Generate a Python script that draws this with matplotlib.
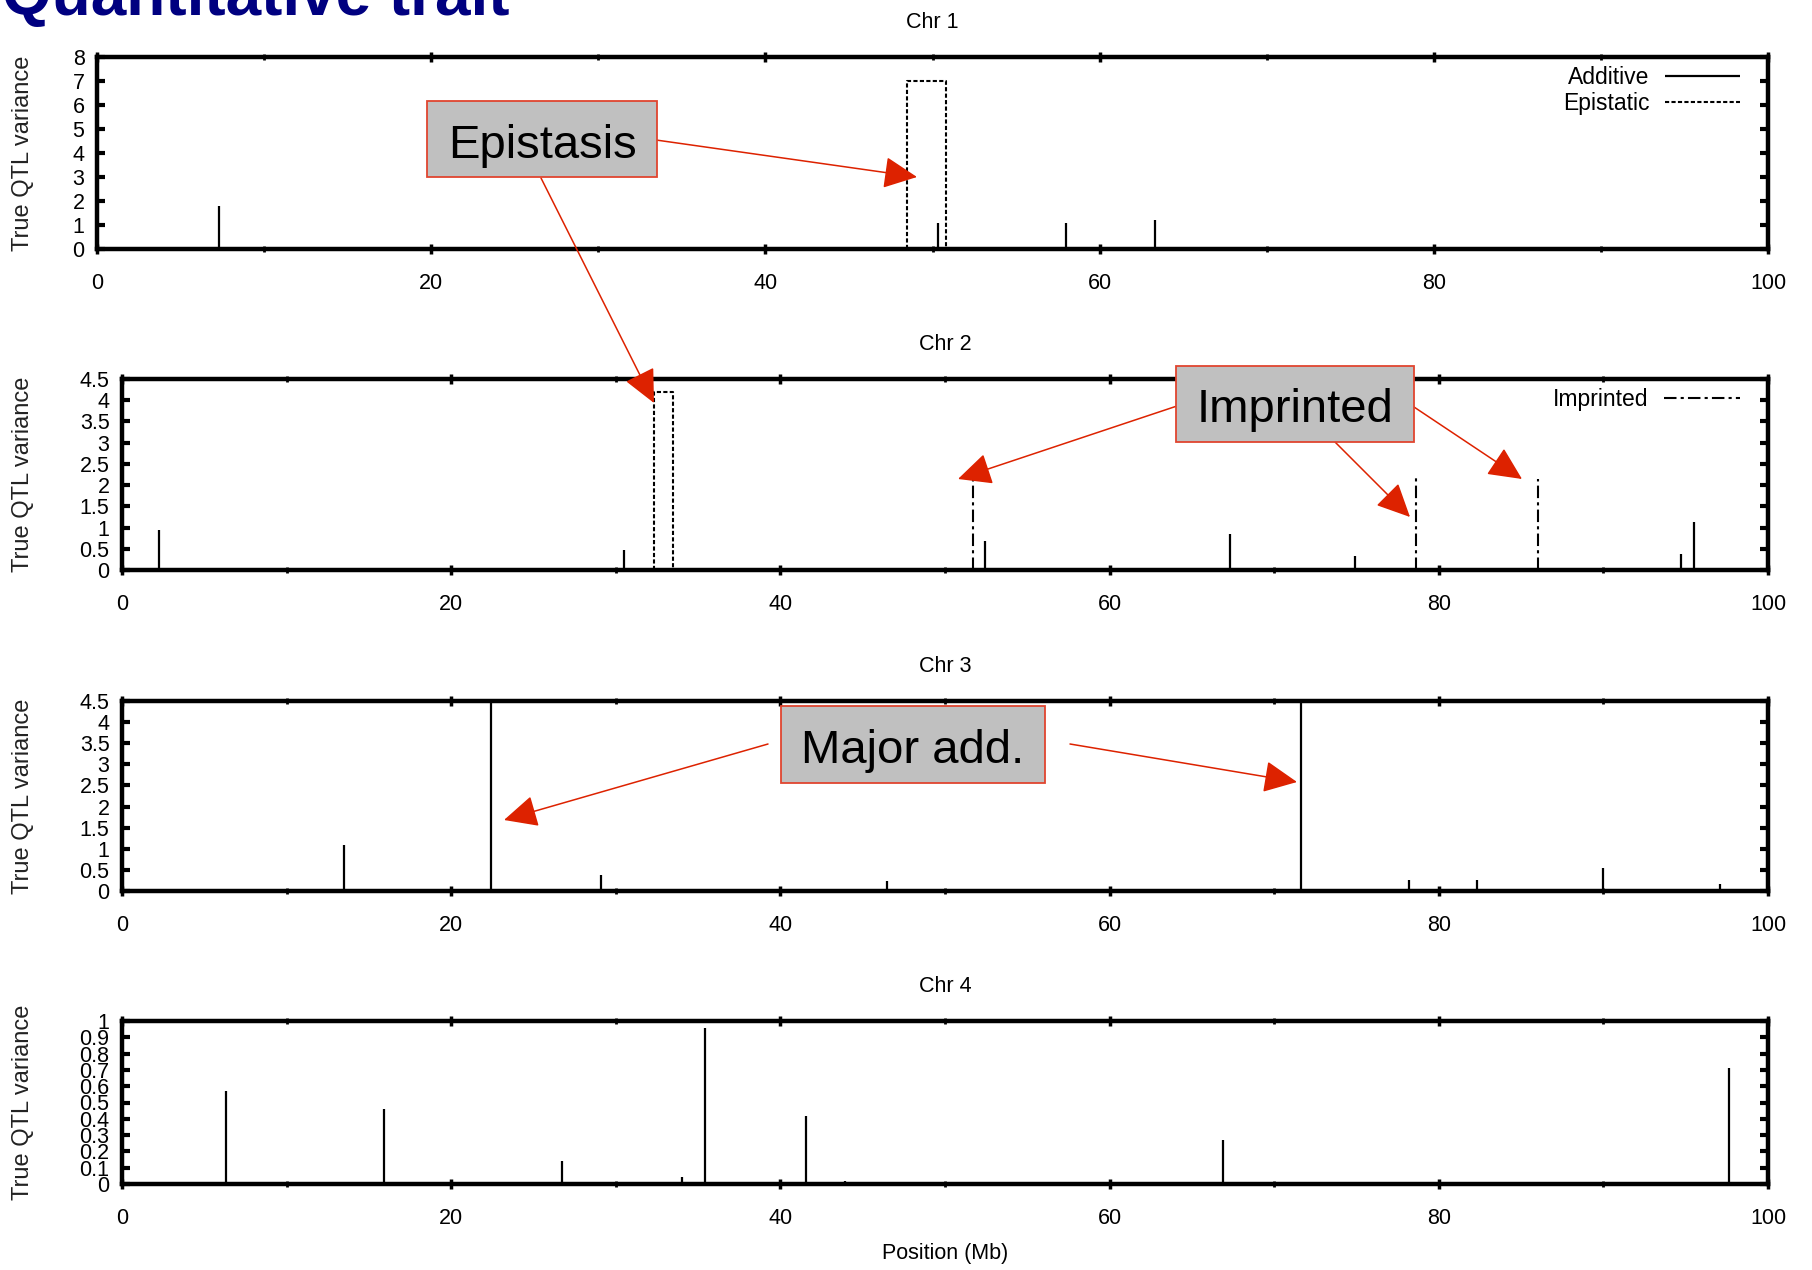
import matplotlib
matplotlib.use("Agg")
import matplotlib.pyplot as plt
from matplotlib.patches import Rectangle, FancyArrowPatch

plt.rcParams['font.family'] = ['Liberation Sans', 'DejaVu Sans']

# --- data (position in Mb, true QTL variance) ---
chr1_add_pos = [7.3, 50.3, 58.0, 63.3]
chr1_add_var = [1.8, 1.1, 1.1, 1.2]
chr1_epi_start = [48.5]
chr1_epi_end = [50.8]
chr1_epi_var = [7.0]

chr2_add_pos = [2.25, 30.5, 52.45, 67.3, 74.9, 94.7, 95.5]
chr2_add_var = [0.95, 0.47, 0.68, 0.84, 0.33, 0.37, 1.13]
chr2_epi_start = [32.3]
chr2_epi_end = [33.45]
chr2_epi_var = [4.2]
chr2_imp_pos = [51.7, 78.6, 86.0]
chr2_imp_var = [2.14, 2.22, 2.14]

chr3_add_pos = [13.5, 22.4, 29.1, 46.5, 71.6, 78.2, 82.3, 90.0, 97.1]
chr3_add_var = [1.08, 4.5, 0.39, 0.23, 4.5, 0.25, 0.25, 0.54, 0.16]

chr4_add_pos = [6.3, 15.9, 26.75, 34.0, 35.4, 41.55, 43.9, 66.9, 97.65]
chr4_add_var = [0.57, 0.46, 0.14, 0.045, 0.96, 0.42, 0.02, 0.27, 0.71]

chr_names = ['Chr 1', 'Chr 2', 'Chr 3', 'Chr 4']
ytick_vals = [
    [0, 1, 2, 3, 4, 5, 6, 7, 8],
    [0, 0.5, 1, 1.5, 2, 2.5, 3, 3.5, 4, 4.5],
    [0, 0.5, 1, 1.5, 2, 2.5, 3, 3.5, 4, 4.5],
    [0, 0.1, 0.2, 0.3, 0.4, 0.5, 0.6, 0.7, 0.8, 0.9, 1],
]
xtick_vals = [0, 20, 40, 60, 80, 100]

W, H = 1812, 1270
fig = plt.figure(figsize=(W / 100, H / 100), dpi=100)


def px(x, y):
    return (x / W, 1 - y / H)


# axes boxes in pixels: left, top, right, bottom
boxes = [(97, 57, 1768, 249), (122, 379, 1768, 570),
         (122, 701, 1768, 891), (122, 1021, 1768, 1184)]

epi_style = (0, (2, 1.1))
imp_style = (0, (6, 2, 1.5, 2))

axes = []
for i, (l, t, r, b) in enumerate(boxes):
    ax = fig.add_axes([l / W, 1 - b / H, (r - l) / W, (b - t) / H])
    ax.set_xlim(0, 100)
    ax.set_ylim(0, ytick_vals[i][-1])
    ax.set_xticks(xtick_vals)
    ax.set_xticks([10, 30, 50, 70, 90], minor=True)
    ax.set_yticks(ytick_vals[i])
    ax.set_yticklabels(['%g' % v for v in ytick_vals[i]])
    for sp in ax.spines.values():
        sp.set_linewidth(3.2)
    ax.tick_params(axis='x', which='major', direction='inout', top=True, bottom=True,
                   length=7, width=2.5, pad=14, labelsize=15.5)
    ax.tick_params(axis='x', which='minor', direction='inout', top=True, bottom=True,
                   length=5, width=2)
    ax.tick_params(axis='y', direction='in', left=True, right=True,
                   length=6, width=3, pad=9, labelsize=15.5)
    ax.annotate(chr_names[i], xy=(0.5, 1), xycoords='axes fraction',
                xytext=(0, 24.5), textcoords='offset points',
                ha='center', va='center', fontsize=15.5)
    fig.text(23 / W, 1 - ((t + b) / 2) / H, 'True QTL variance', rotation=90,
             ha='center', va='center', fontsize=17, color='#222222')
    axes.append(ax)

ax1, ax2, ax3, ax4 = axes

# Chr 1
ax1.vlines(chr1_add_pos, 0, chr1_add_var, colors='k', lw=1.6, label='Additive')
for s, e, v in zip(chr1_epi_start, chr1_epi_end, chr1_epi_var):
    ax1.plot([s, s, e, e], [0, v, v, 0], color='k', lw=1.5, ls=epi_style, label='Epistatic')
ax1.legend(loc='upper right', bbox_to_anchor=(0.989, 1.0), borderaxespad=0, frameon=False,
           markerfirst=False, handlelength=3.3, handletextpad=0.68, labelspacing=0.12,
           fontsize=16.5)

# Chr 2
ax2.vlines(chr2_add_pos, 0, chr2_add_var, colors='k', lw=1.6)
for s, e, v in zip(chr2_epi_start, chr2_epi_end, chr2_epi_var):
    ax2.plot([s, s, e, e], [0, v, v, 0], color='k', lw=1.5, ls=epi_style)
ax2.vlines(chr2_imp_pos, 0, chr2_imp_var, colors='k', lw=1.5, linestyles=[imp_style],
           label='Imprinted')
ax2.legend(loc='upper right', bbox_to_anchor=(0.9885, 1.0), borderaxespad=0, frameon=False,
           markerfirst=False, handlelength=3.3, handletextpad=0.68, fontsize=16.5)

# Chr 3, Chr 4
ax3.vlines(chr3_add_pos, 0, chr3_add_var, colors='k', lw=1.6)
ax4.vlines(chr4_add_pos, 0, chr4_add_var, colors='k', lw=1.6)
ax4.annotate('Position (Mb)', xy=(0.5, 0), xycoords='axes fraction',
             xytext=(0, -50), textcoords='offset points',
             ha='center', va='center', fontsize=15.5)

# slide title, cut at the top edge as in the source slide
fig.text(2 / W, 1 - 15 / H, 'Quantitative trait', fontsize=46, fontweight='bold',
         color='#000080', ha='left', va='baseline')

# callout boxes and arrows (pixel layout)
red = '#dd2200'


def callout(l, t, r, b, text, base):
    fig.add_artist(Rectangle(px(l, b), (r - l) / W, (b - t) / H, transform=fig.transFigure,
                             facecolor='#c0c0c0', edgecolor='#e0452f', lw=1.3, zorder=6))
    fig.text(((l + r) / 2) / W, 1 - base / H, text, ha='center', va='baseline',
             fontsize=34, zorder=7)


def arrow(p0, p1):
    fig.add_artist(FancyArrowPatch(px(*p0), px(*p1), transform=fig.transFigure,
                                   arrowstyle='-|>,head_length=21,head_width=10',
                                   mutation_scale=1, color=red, lw=1.1,
                                   shrinkA=0, shrinkB=0, zorder=5))


callout(427, 101, 657, 177, 'Epistasis', 158)
arrow((656, 140), (917, 177))
arrow((541, 178), (654, 403))

callout(1176, 366, 1414, 442, 'Imprinted', 422)
arrow((1183, 404), (958, 479))
arrow((1335, 442), (1410, 517))
arrow((1411, 405), (1522, 479))

callout(781, 706, 1045, 783, 'Major add.', 763)
arrow((768, 744), (504, 820))
arrow((1070, 744), (1297, 782))

fig.savefig('out.png', dpi=100)
